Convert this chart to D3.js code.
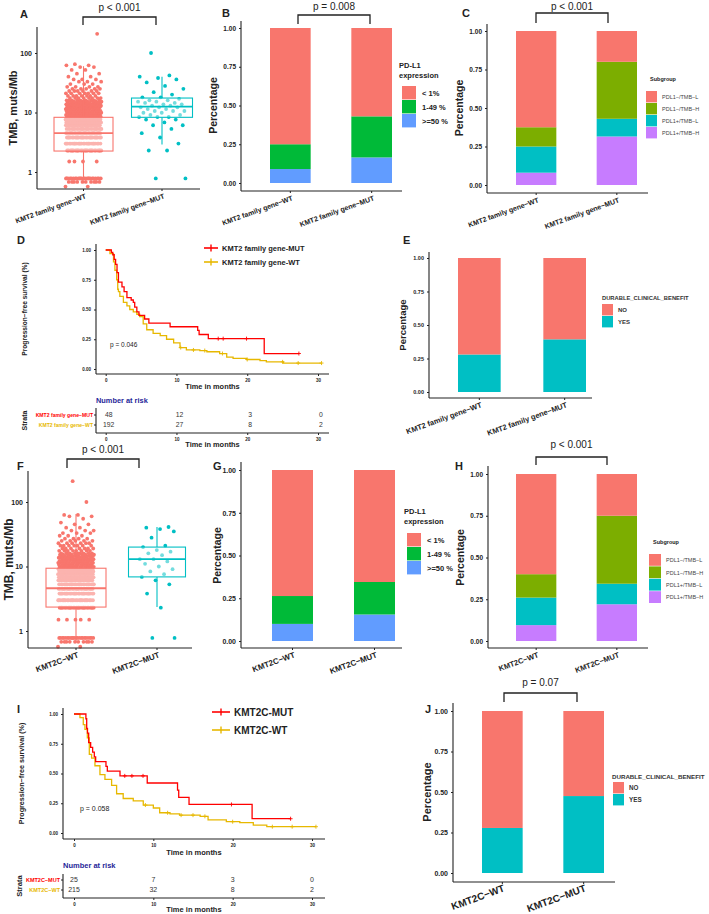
<!DOCTYPE html>
<html>
<head>
<meta charset="utf-8">
<script src="https://cdn.jsdelivr.net/npm/d3@7"></script>
<style>
body { margin: 0; background: #fff; }
svg text { font-family: "Liberation Sans", Arial, sans-serif; }
</style>
</head>
<body>
<div class="figure"></div>
<script>
// ---------- data ----------
const familyGroups = ["KMT2 family gene−WT", "KMT2 family gene−MUT"];
const kmt2cGroups = ["KMT2C−WT", "KMT2C−MUT"];

// TMB dots as [muts/Mb, number of dots in that row]
const tmbFamilyWt = [[0.57,2],[0.68,10],[0.78,24],[1.5,4],[2.3,26],[3.0,26],[3.8,26],[4.5,26],[5.3,26],[6.1,25],[6.8,24],[7.6,23],[8.4,20],[9.1,18],[9.9,17],[10.6,15],[11.4,14],[12.2,14],[13,12],[13.7,11],[14.5,10],[15.2,9],[16,9],[17.5,8],[19,7],[21,7],[23,6],[25,5],[27,4],[30,3],[33,3],[36,3],[40,2],[45,2],[52,2],[58,2],[62,2],[65,1],[210,1]];
const tmbFamilyMut = [[0.78,2],[2.3,2],[3.0,1],[3.8,1],[4.5,1],[5.3,1],[6.1,2],[6.8,1],[7.6,2],[8.4,3],[9.1,2],[9.9,2],[10.6,3],[11.4,2],[12.2,3],[13,2],[13.7,2],[14.5,2],[15.2,2],[16,2],[17,1],[18,2],[20,1],[22,1],[25,1],[28,1],[32,1],[36,1],[38,1],[40,1],[42,1],[100,1]];
const tmbKmt2cWt = [[0.57,2],[0.68,10],[0.78,22],[1.5,5],[2.3,26],[3.0,26],[3.8,26],[4.5,26],[5.3,26],[6.1,24],[6.8,24],[7.6,22],[8.4,20],[9.1,18],[9.9,17],[10.6,15],[11.4,14],[12.2,13],[13,12],[13.7,11],[14.5,10],[15.2,9],[16,9],[17.5,8],[19,7],[21,7],[23,6],[25,5],[27,4],[30,3],[33,3],[36,3],[40,2],[45,2],[48,1],[55,1],[60,2],[63,2],[100,1],[210,1]];
const tmbKmt2cMut = [[0.78,2],[2.3,1],[3.8,1],[5.3,1],[6.1,1],[6.9,1],[7.6,1],[8.4,1],[9.1,1],[10,1],[11,1],[12,1],[13,2],[15,1],[16,1],[17,1],[18,1],[20,1],[21,1],[28,1],[35,1],[38,1],[40,1],[41,1]];
// box stats: [lower whisker, q1, median, q3, upper whisker]
const boxFamily = [[0.72, 2.25, 4.5, 8.3, 60], [2.9, 8.3, 12.6, 17.5, 40]];
const boxKmt2c = [[0.65, 2.35, 4.6, 9.4, 65], [2.35, 6.9, 13, 20, 41]];

// PD-L1 expression shares (WT, MUT)
const pdl1Keys = ["< 1%", "1-49 %", ">=50 %"];
const pdl1LowB = [0.75, 0.57], pdl1MidB = [0.16, 0.265], pdl1HighB = [0.09, 0.165];
const pdl1LowG = [0.737, 0.655], pdl1MidG = [0.163, 0.19], pdl1HighG = [0.10, 0.155];

// subgroup shares (WT, MUT)
const subKeys = ["PDL1−/TMB−L", "PDL1−/TMB−H", "PDL1+/TMB−L", "PDL1+/TMB−H"];
const subNegLowC = [0.625, 0.20], subNegHighC = [0.125, 0.37], subPosLowC = [0.17, 0.115], subPosHighC = [0.08, 0.315];
const subNegLowH = [0.60, 0.25], subNegHighH = [0.14, 0.407], subPosLowH = [0.165, 0.123], subPosHighH = [0.095, 0.22];

// durable clinical benefit shares (WT, MUT)
const dcbKeys = ["NO", "YES"];
const dcbNoE = [0.72, 0.607], dcbYesE = [0.28, 0.393];
const dcbNoJ = [0.722, 0.525], dcbYesJ = [0.278, 0.475];

// Kaplan-Meier steps (months, survival) and censor times
const kmDMutT = [0,0.8,1.0,1.2,1.4,1.6,1.8,2.3,2.6,3.0,3.6,3.9,4.1,4.4,4.7,5.5,6.1,9.1,13.0,13.2,14.5,22.4,27.3];
const kmDMutS = [1,0.98,0.96,0.92,0.88,0.81,0.73,0.69,0.65,0.60,0.58,0.56,0.52,0.48,0.45,0.42,0.385,0.355,0.325,0.29,0.255,0.13,0.13];
const kmDMutC = [15.9,16.6,19.9,27.3];
const kmDWtT = [0,0.6,1.1,1.3,1.55,1.7,1.8,2.0,2.5,3.0,3.4,3.9,4.4,4.8,5.3,5.8,6.7,7.7,8.6,9.6,10.5,11.4,13.3,14.3,16.1,17.1,18.0,19.9,21.8,22.7,25.1,30.5];
const kmDWtS = [1,0.97,0.90,0.83,0.75,0.67,0.65,0.61,0.56,0.53,0.50,0.48,0.46,0.44,0.38,0.33,0.30,0.28,0.25,0.22,0.18,0.16,0.155,0.145,0.13,0.10,0.09,0.08,0.07,0.06,0.05,0.05];
const kmDWtC = [10.6,12.4,14.0,16.5,20.0,25.0,27.2,30.5];
const kmIMutT = [0,1.5,1.6,1.7,1.85,2.1,2.35,2.56,2.73,4.03,4.2,5.8,9.23,13.05,13.2,14.5,22.45,27.3];
const kmIMutS = [1,0.96,0.88,0.84,0.76,0.72,0.68,0.64,0.60,0.56,0.52,0.48,0.42,0.36,0.30,0.24,0.12,0.12];
const kmIMutC = [6.4,7.3,8.7,19.85,27.3];
const kmIWtT = [0,0.75,1.17,1.38,1.68,1.93,2.22,2.64,3.27,3.9,4.74,5.37,6.2,7.47,8.73,10.0,10.8,12.1,13.3,15.9,16.9,19.2,20.9,22.6,24.3,30.5];
const kmIWtS = [1,0.97,0.91,0.87,0.80,0.66,0.63,0.565,0.49,0.45,0.40,0.33,0.29,0.27,0.235,0.21,0.17,0.16,0.15,0.14,0.11,0.095,0.087,0.067,0.053,0.053];
const kmIWtC = [9.0,11.8,13.5,15.0,16.5,20.0,25.0,27.5,30.5];

// numbers at risk
const riskTimes = [0, 10, 20, 30];
const riskDMut = [48, 12, 3, 0], riskDWt = [192, 27, 8, 2];
const riskIMut = [25, 7, 3, 0], riskIWt = [215, 32, 8, 2];

// ---------- drawing ----------
const tmbColors = ["#F8766D", "#00BFC4"];
const pdl1Colors = ["#F8766D", "#00BA38", "#619CFF"];
const subColors = ["#F8766D", "#7CAE00", "#00BFC4", "#C77CFF"];
const dcbColors = ["#F8766D", "#00BFC4"];
const mutRed = "#FF0000", wtGold = "#E7B800";
const ink = "#222";

const svg = d3.select('.figure')
    .append('svg')
    .attr('width', 709)
    .attr('height', 914);

function txt(g, x, y, s, size, o) {
    o = o || {};
    const t = g.append("text")
        .attr("x", x).attr("y", y)
        .attr("font-size", size)
        .attr("font-weight", o.bold ? "bold" : null)
        .attr("fill", o.fill || ink)
        .attr("text-anchor", o.anchor || "start")
        .text(s);
    if (o.rotate) t.attr("transform", `rotate(${o.rotate},${x},${y})`);
    return t;
}

function hline(g, x1, x2, y, w) {
    g.append("line").attr("x1", x1).attr("x2", x2).attr("y1", y).attr("y2", y)
        .attr("stroke", ink).attr("stroke-width", w || 1.1);
}
function vline(g, x, y1, y2, w) {
    g.append("line").attr("x1", x).attr("x2", x).attr("y1", y1).attr("y2", y2)
        .attr("stroke", ink).attr("stroke-width", w || 1.1);
}

function styleAxis(a, size) {
    a.select(".domain").remove();
    a.selectAll("text").attr("font-size", size).attr("font-weight", "bold").attr("fill", ink)
        .attr("font-family", "Liberation Sans, Arial, sans-serif");
    a.selectAll("line").attr("stroke", ink);
}

function bracket(g, x1, x2, top, bottom, label, ly) {
    g.append("path")
        .attr("d", `M${x1},${bottom}V${top}H${x2}V${bottom}`)
        .attr("fill", "none").attr("stroke", ink).attr("stroke-width", 1.3);
    txt(g, (x1 + x2) / 2, ly, label, 10, {anchor: "middle"});
}

function xLabels(g, scale, groups, axisY, size) {
    groups.forEach(gr => {
        const x = scale(gr) + (scale.bandwidth ? scale.bandwidth() / 2 : 0);
        g.append("line").attr("x1", x).attr("x2", x).attr("y1", axisY).attr("y2", axisY + 2).attr("stroke", ink);
        txt(g, x + 3, axisY + 9, gr, size, {bold: true, anchor: "end", rotate: -20});
    });
}

// box + jitter panel (A, F)
function boxPanel(c) {
    const g = svg.append("g");
    const x = d3.scalePoint().domain(c.groups).range(c.centers);
    const y = d3.scaleLog().domain([1, 100]).range([c.y1, c.y100]);

    c.points.forEach((rows, gi) => {
        const pts = [];
        rows.forEach(r => { for (let k = 0; k < r[1]; k++) pts.push(r[0]); });
        g.append("g").selectAll("circle")
            .data(pts)
            .enter()
            .append("circle")
            .attr("cx", (d, i) => x(c.groups[gi]) + (((i * 0.618034 + gi * 0.37) % 1) - 0.5) * 2 * c.jitter[gi])
            .attr("cy", d => y(d))
            .attr("r", 1.9)
            .attr("fill", tmbColors[gi]);
    });

    c.stats.forEach((s, gi) => {
        const cx = x(c.groups[gi]), w = c.boxW[gi];
        g.append("line").attr("x1", cx).attr("x2", cx).attr("y1", y(s[4])).attr("y2", y(s[3]))
            .attr("stroke", tmbColors[gi]).attr("stroke-width", 1.1);
        g.append("line").attr("x1", cx).attr("x2", cx).attr("y1", y(s[1])).attr("y2", y(s[0]))
            .attr("stroke", tmbColors[gi]).attr("stroke-width", 1.1);
        g.append("rect").attr("x", cx - w / 2).attr("width", w)
            .attr("y", y(s[3])).attr("height", y(s[1]) - y(s[3]))
            .attr("fill", "#fff").attr("fill-opacity", 0.45)
            .attr("stroke", tmbColors[gi]).attr("stroke-width", 1.1);
        g.append("line").attr("x1", cx - w / 2).attr("x2", cx + w / 2).attr("y1", y(s[2])).attr("y2", y(s[2]))
            .attr("stroke", tmbColors[gi]).attr("stroke-width", 1.8);
    });

    const ya = g.append("g").attr("transform", `translate(${c.axisX},0)`)
        .call(d3.axisLeft(y).tickValues([1, 10, 100]).tickFormat(d3.format("d")).tickSize(2));
    styleAxis(ya, 7);
    vline(g, c.axisX, c.axisTop, c.axisY);
    hline(g, c.axisX, c.axisEnd, c.axisY);
    xLabels(g, x, c.groups, c.axisY, c.xSize);
    txt(g, c.titleX, (c.axisTop + c.axisY) / 2, "TMB, muts/Mb", c.titleSize, {bold: true, anchor: "middle", rotate: -90});
    txt(g, c.letter[1], c.letter[2], c.letter[0], 11, {bold: true});
    if (c.p) bracket(g, c.p[0], c.p[1], c.p[2], c.p[3], c.p[4], c.p[5]);
}

// stacked percentage bar panel (B, C, E, G, H, J)
function barPanel(c) {
    const g = svg.append("g");
    const x = d3.scaleBand().domain(c.groups).range(c.bars).paddingInner(0.5);
    const y = d3.scaleLinear().domain([0, 1]).range([c.y0, c.y1]);
    // bottom-most key first for stacking
    const order = c.keys.slice().reverse();
    const rows = c.groups.map((gr, gi) => {
        const r = {group: gr};
        c.keys.forEach((k, ki) => { r[k] = c.values[ki][gi]; });
        return r;
    });
    const series = d3.stack().keys(order)(rows);
    series.forEach(s => {
        const col = c.colors[c.keys.indexOf(s.key)];
        g.append("g").selectAll("rect")
            .data(s)
            .enter()
            .append("rect")
            .attr("x", d => x(d.data.group))
            .attr("width", x.bandwidth())
            .attr("y", d => y(d[1]))
            .attr("height", d => y(d[0]) - y(d[1]))
            .attr("fill", col);
    });

    const ya = g.append("g").attr("transform", `translate(${c.axisX},0)`)
        .call(d3.axisLeft(y).tickValues([0, 0.25, 0.5, 0.75, 1]).tickFormat(d3.format(".2f")).tickSize(2));
    styleAxis(ya, c.tickSize);
    vline(g, c.axisX, c.axisTop, c.axisY);
    hline(g, c.axisX, c.axisEnd, c.axisY);
    xLabels(g, x, c.groups, c.axisY, c.xSize);
    txt(g, c.titleX, (c.y0 + c.y1) / 2, "Percentage", c.titleSize, {bold: true, anchor: "middle", rotate: -90});
    txt(g, c.letter[1], c.letter[2], c.letter[0], 11, {bold: true});
    if (c.p) bracket(g, c.p[0], c.p[1], c.p[2], c.p[3], c.p[4], c.p[5]);

    // legend
    const L = c.legend;
    L.title.forEach((t, i) => txt(g, L.x, L.ty + i * L.tgap, t, L.tsize, {bold: true, fill: L.tfill || ink}));
    c.keys.forEach((k, i) => {
        g.append("rect").attr("x", L.x + L.kx).attr("y", L.ky + i * L.kh)
            .attr("width", L.kw).attr("height", L.kh - 0.6)
            .attr("fill", c.colors[i]);
        txt(g, L.x + L.kx + L.kw + L.lgap, L.ky + i * L.kh + L.kh / 2 + L.size * 0.35, k, L.size,
            {bold: L.bold, fill: L.lfill || ink});
    });
}

function survAt(t, ts, ss) {
    const k = d3.bisectRight(ts, t) - 1;
    return ss[Math.max(0, k)];
}

// Kaplan-Meier panel with risk table (D, I)
function kmPanel(c) {
    const g = svg.append("g");
    const x = d3.scaleLinear().domain([0, 30]).range([c.x0, c.x30]);
    const y = d3.scaleLinear().domain([0, 1]).range([c.y0, c.y1]);

    const ya = g.append("g").attr("transform", `translate(${c.axisX},0)`)
        .call(d3.axisLeft(y).tickValues([0, 0.25, 0.5, 0.75, 1]).tickFormat(d3.format(".2f")).tickSize(2));
    styleAxis(ya, c.tick);
    const xa = g.append("g").attr("transform", `translate(0,${c.axisY})`)
        .call(d3.axisBottom(x).tickValues(riskTimes).tickSize(2));
    styleAxis(xa, c.tick);
    vline(g, c.axisX, c.axisTop, c.axisY);
    hline(g, c.axisX, c.axisEnd, c.axisY);

    const line = d3.line().curve(d3.curveStepAfter).x(d => x(d[0])).y(d => y(d[1]));
    c.curves.slice().reverse().forEach(cv => {
        const pts = cv.t.map((t, i) => [t, cv.s[i]]);
        g.append("path").attr("d", line(pts)).attr("fill", "none")
            .attr("stroke", cv.color).attr("stroke-width", 1.3);
        g.append("g").selectAll("path")
            .data(cv.cens)
            .enter()
            .append("path")
            .attr("d", d => {
                const px = x(d), py = y(survAt(d, cv.t, cv.s));
                return `M${px - 2},${py}h4M${px},${py - 2}v4`;
            })
            .attr("stroke", cv.color).attr("stroke-width", 0.9);
    });

    txt(g, c.pPos[0], c.pPos[1], c.pText, c.pSize, {});
    txt(g, (c.axisX + c.axisEnd) / 2, c.xTitleY, "Time in months", c.titleSize, {bold: true, anchor: "middle"});
    txt(g, c.yTitleX, (c.axisTop + c.axisY) / 2, "Progression−free survival (%)", c.yTitleSize,
        {bold: true, anchor: "middle", rotate: -90});
    txt(g, c.letter[1], c.letter[2], c.letter[0], 11, {bold: true});

    // legend
    c.curves.forEach((cv, i) => {
        const ly = c.leg.y + i * c.leg.gap;
        g.append("line").attr("x1", c.leg.x).attr("x2", c.leg.x + c.leg.w).attr("y1", ly).attr("y2", ly)
            .attr("stroke", cv.color).attr("stroke-width", 1.6);
        g.append("path").attr("d", `M${c.leg.x + c.leg.w / 2},${ly - 3.5}v7`)
            .attr("stroke", cv.color).attr("stroke-width", 1.4);
        txt(g, c.leg.x + c.leg.w + 4, ly + c.leg.size * 0.35, cv.name, c.leg.size, {bold: true});
    });

    // risk table
    const R = c.risk;
    txt(g, c.axisX, R.titleY, "Number at risk", R.titleSize, {bold: true, fill: "#1F1F99"});
    c.curves.forEach((cv, i) => {
        const ry = R.rowY[i];
        txt(g, c.axisX - 3, ry, cv.strata, R.strataSize, {bold: true, anchor: "end", fill: cv.color});
        g.append("line").attr("x1", c.axisX - 2).attr("x2", c.axisX).attr("y1", ry - 2).attr("y2", ry - 2).attr("stroke", ink);
        g.append("g").selectAll("text")
            .data(cv.risk)
            .enter()
            .append("text")
            .text(d => d)
            .attr("x", (d, j) => x(riskTimes[j]) + R.numShift)
            .attr("y", ry)
            .attr("text-anchor", "middle")
            .attr("font-size", R.numSize)
            .attr("fill", "#333");
    });
    const ra = g.append("g").attr("transform", `translate(0,${R.axisY})`)
        .call(d3.axisBottom(x).tickValues(riskTimes).tickSize(2));
    styleAxis(ra, c.tick);
    vline(g, c.axisX, R.axisTop, R.axisY);
    hline(g, c.axisX, c.axisEnd, R.axisY);
    txt(g, (c.axisX + c.axisEnd) / 2, R.xTitleY, "Time in months", c.titleSize, {bold: true, anchor: "middle"});
    txt(g, R.strataX, (R.axisTop + R.axisY) / 2, "Strata", R.strataTitle, {bold: true, anchor: "middle", rotate: -90});
}

// ---------- panels ----------
boxPanel({
    groups: familyGroups, centers: [83.5, 162], y1: 172, y100: 53,
    points: [tmbFamilyWt, tmbFamilyMut], stats: boxFamily, jitter: [18, 24], boxW: [59, 61],
    axisX: 37, axisTop: 27, axisY: 189, axisEnd: 200, xSize: 7,
    titleX: 17, titleSize: 11, letter: ["A", 20, 18],
    p: [83, 156, 17, 25, "p < 0.001", 11]
});

barPanel({
    groups: familyGroups, keys: pdl1Keys, colors: pdl1Colors,
    values: [pdl1LowB, pdl1MidB, pdl1HighB],
    bars: [270, 392], y0: 183, y1: 28, axisX: 241, axisTop: 21, axisY: 191, axisEnd: 402,
    tickSize: 6.5, xSize: 7, titleX: 217, titleSize: 10.5, letter: ["B", 222, 17],
    p: [298, 370, 15, 24, "p = 0.008", 10],
    legend: {x: 399, title: ["PD-L1", "expression"], ty: 68, tgap: 10, tsize: 7.5,
        kx: 3, ky: 86, kw: 14, kh: 14, lgap: 6, size: 7.5, bold: true}
});

barPanel({
    groups: familyGroups, keys: subKeys, colors: subColors,
    values: [subNegLowC, subNegHighC, subPosLowC, subPosHighC],
    bars: [516, 637], y0: 185, y1: 31, axisX: 487, axisTop: 24, axisY: 193, axisEnd: 648,
    tickSize: 6.5, xSize: 7, titleX: 463, titleSize: 10.5, letter: ["C", 462, 17],
    p: [536, 608, 13, 23, "p < 0.001", 10],
    legend: {x: 650, title: ["Subgroup"], ty: 81, tgap: 10, tsize: 5.5, kx: -4, ky: 91, kw: 11, kh: 12,
        lgap: 5, size: 5.5, bold: false, lfill: "#444"}
});

kmPanel({
    x0: 105.7, x30: 318, y0: 369, y1: 250, axisX: 96, axisTop: 244, axisY: 374, axisEnd: 329,
    tick: 4.5, titleSize: 7.4, xTitleY: 389, yTitleX: 27, yTitleSize: 6.6,
    pPos: [110, 347], pText: "p = 0.046", pSize: 6.5, letter: ["D", 17, 244],
    curves: [
        {name: "KMT2 family gene-MUT", strata: "KMT2 family gene−MUT", color: mutRed,
            t: kmDMutT, s: kmDMutS, cens: kmDMutC, risk: riskDMut},
        {name: "KMT2 family gene-WT", strata: "KMT2 family gene−WT", color: wtGold,
            t: kmDWtT, s: kmDWtS, cens: kmDWtC, risk: riskDWt}
    ],
    leg: {x: 204, y: 248, gap: 14, w: 14, size: 7.5},
    risk: {titleY: 403, titleSize: 7.4, rowY: [417, 427], strataSize: 5.1, numSize: 6.8, numShift: 3,
        axisTop: 408, axisY: 433, xTitleY: 447, strataX: 27, strataTitle: 7}
});

barPanel({
    groups: familyGroups, keys: dcbKeys, colors: dcbColors,
    values: [dcbNoE, dcbYesE],
    bars: [458, 586], y0: 392, y1: 258, axisX: 429, axisTop: 252, axisY: 398, axisEnd: 592,
    tickSize: 5.5, xSize: 7.5, titleX: 406, titleSize: 9.5, letter: ["E", 403, 244],
    legend: {x: 602, title: ["DURABLE_CLINICAL_BENEFIT"], ty: 300, tgap: 10, tsize: 5.8,
        tfill: "#333", kx: 0, ky: 304, kw: 11, kh: 12, lgap: 5, size: 6, bold: true, lfill: "#333"}
});

boxPanel({
    groups: kmt2cGroups, centers: [76, 157], y1: 631, y100: 502,
    points: [tmbKmt2cWt, tmbKmt2cMut], stats: boxKmt2c, jitter: [18, 18], boxW: [60, 57],
    axisX: 28, axisTop: 471, axisY: 648, axisEnd: 192, xSize: 8,
    titleX: 13, titleSize: 12, letter: ["F", 17, 470],
    p: [67, 139, 459, 468, "p < 0.001", 453]
});

barPanel({
    groups: kmt2cGroups, keys: pdl1Keys, colors: pdl1Colors,
    values: [pdl1LowG, pdl1MidG, pdl1HighG],
    bars: [272, 395], y0: 641, y1: 470, axisX: 241, axisTop: 462, axisY: 648, axisEnd: 402,
    tickSize: 7, xSize: 8, titleX: 221, titleSize: 10.5, letter: ["G", 213, 470],
    legend: {x: 404, title: ["PD-L1", "expression"], ty: 514, tgap: 10, tsize: 7.5,
        kx: 3, ky: 533, kw: 14, kh: 14, lgap: 6, size: 7.5, bold: true}
});

barPanel({
    groups: kmt2cGroups, keys: subKeys, colors: subColors,
    values: [subNegLowH, subNegHighH, subPosLowH, subPosHighH],
    bars: [516, 637], y0: 641, y1: 474, axisX: 488, axisTop: 466, axisY: 648, axisEnd: 648,
    tickSize: 6.5, xSize: 7.5, titleX: 464, titleSize: 10.5, letter: ["H", 455, 470],
    p: [536, 607, 457, 465, "p < 0.001", 448],
    legend: {x: 653, title: ["Subgroup"], ty: 544, tgap: 10, tsize: 5.5, kx: -4, ky: 554, kw: 12, kh: 12.4,
        lgap: 5, size: 5.5, bold: false, lfill: "#444"}
});

kmPanel({
    x0: 74, x30: 312, y0: 833, y1: 714, axisX: 63, axisTop: 708, axisY: 839, axisEnd: 325,
    tick: 4.5, titleSize: 7.5, xTitleY: 855, yTitleX: 24, yTitleSize: 7.2,
    pPos: [80, 811], pText: "p = 0.058", pSize: 7, letter: ["I", 17, 713],
    curves: [
        {name: "KMT2C-MUT", strata: "KMT2C−MUT", color: mutRed,
            t: kmIMutT, s: kmIMutS, cens: kmIMutC, risk: riskIMut},
        {name: "KMT2C-WT", strata: "KMT2C−WT", color: wtGold,
            t: kmIWtT, s: kmIWtS, cens: kmIWtC, risk: riskIWt}
    ],
    leg: {x: 212, y: 712, gap: 18, w: 18, size: 10},
    risk: {titleY: 868, titleSize: 7.5, rowY: [882, 892], strataSize: 5.5, numSize: 7, numShift: 0,
        axisTop: 874, axisY: 898, xTitleY: 912, strataX: 22, strataTitle: 7.5}
});

barPanel({
    groups: kmt2cGroups, keys: dcbKeys, colors: dcbColors,
    values: [dcbNoJ, dcbYesJ],
    bars: [482, 604], y0: 873, y1: 711, axisX: 453, axisTop: 703, axisY: 882, axisEnd: 615,
    tickSize: 7, xSize: 10, titleX: 431, titleSize: 11, letter: ["J", 425, 713],
    p: [504, 577, 693, 702, "p = 0.07", 686],
    legend: {x: 612, title: ["DURABLE_CLINICAL_BENEFIT"], ty: 779, tgap: 10, tsize: 6.2,
        tfill: "#333", kx: 1, ky: 782, kw: 11, kh: 12, lgap: 5, size: 6.3, bold: true, lfill: "#333"}
});
</script>
</body>
</html>
